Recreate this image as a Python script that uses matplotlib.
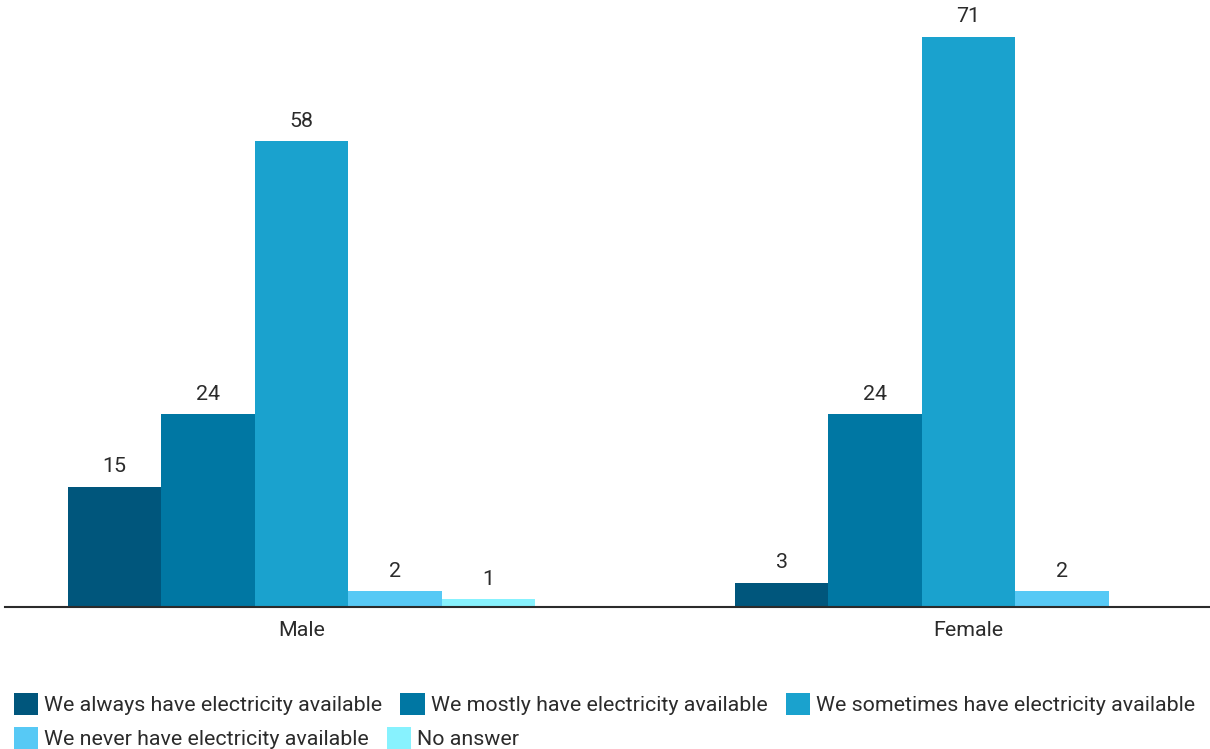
import matplotlib
matplotlib.use("Agg")
import matplotlib.pyplot as plt
import numpy as np

plt.rcParams.update({
    "font.family": ["Roboto", "DejaVu Sans"],
    "font.size": 15.4,
    "text.color": "#2b2b2b",
    "xtick.color": "#2b2b2b",
})

GROUPS = ["Male", "Female"]
ANSWERS = [
    "We always have electricity available",
    "We mostly have electricity available",
    "We sometimes have electricity available",
    "We never have electricity available",
    "No answer",
]
COLORS = ["#00567c", "#0077a3", "#1aa2ce", "#57c9f5", "#87f2fe"]

# share of respondents per answer, one list per answer (Male, Female)
ALWAYS = [15, 3]
MOSTLY = [24, 24]
SOMETIMES = [58, 71]
NEVER = [2, 2]
NO_ANSWER = [1, 0]
SERIES = [ALWAYS, MOSTLY, SOMETIMES, NEVER, NO_ANSWER]

fig = plt.figure(figsize=(12.1, 7.49), dpi=100)
ax = fig.add_axes([5 / 1210, 142 / 749, 1 - 5 / 1210, 607 / 749])

x = np.arange(len(GROUPS))
bar_w = 0.14
offsets = (np.arange(len(SERIES)) - 2) * bar_w

for vals, off, col, lab in zip(SERIES, offsets, COLORS, ANSWERS):
    bars = ax.bar(x + off, vals, bar_w, color=col, label=lab, linewidth=0)
    for bar, v in zip(bars, vals):
        if v == 0:
            continue
        ax.text(bar.get_x() + bar.get_width() / 2, v + 1.3, f"{v}",
                ha="center", va="bottom")

ax.set_xlim(-0.4445, 1.362)
ax.set_ylim(0, 75.6)
ax.set_xticks(x)
ax.set_xticklabels(GROUPS)
ax.tick_params(axis="x", length=0, pad=10)
ax.set_yticks([])
for s in ["top", "right", "left"]:
    ax.spines[s].set_visible(False)
ax.spines["bottom"].set_color("#2b2b2b")
ax.spines["bottom"].set_linewidth(1.5)

handles, labels = ax.get_legend_handles_labels()
leg_kw = dict(frameon=False, handlelength=1.13, handleheight=1.22,
              handletextpad=0.28, columnspacing=0.85, borderaxespad=0,
              borderpad=0, loc="upper left")
fig.legend(handles[:3], labels[:3], ncol=3,
           bbox_to_anchor=(14 / 1210, 1 - 693 / 749), **leg_kw)
fig.legend(handles[3:], labels[3:], ncol=2,
           bbox_to_anchor=(14 / 1210, 1 - 727 / 749), **leg_kw)

fig.savefig("out.png", dpi=100)
